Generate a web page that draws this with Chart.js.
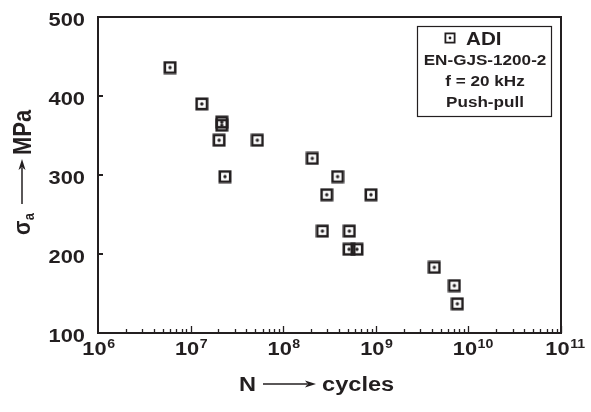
<!DOCTYPE html>
<html>
<head>
<meta charset="utf-8">
<script src="https://cdn.jsdelivr.net/npm/chart.js@4.4.1/dist/chart.umd.min.js"></script>
<style>
  html, body { margin: 0; padding: 0; background: #fff; }
  #wrap { width: 591px; height: 412px; }
</style>
</head>
<body>
<div id="wrap"><canvas id="myChart" width="591" height="412"></canvas></div>
<script>
// fatigue data: number of cycles to failure and stress amplitude (MPa)
let cycles = [6.0e6, 1.32e7, 2.17e7, 2.17e7, 2.03e7, 5.26e7, 2.06e8, 2.35e7, 3.87e8,
              2.95e8, 8.87e8, 2.65e8, 5.18e8, 5.14e8, 6.26e8, 4.28e9, 7.05e9, 7.6e9]
let stress = [436, 390, 367, 363, 344, 344, 321, 298, 298,
              275, 275, 229, 229, 206, 206, 183, 160, 137]

let xExponents = [6, 7, 8, 9, 10, 11]
let yTicks = [100, 200, 300, 400, 500]
let legendLines = ["EN-GJS-1200-2", "f = 20 kHz", "Push-pull"]

const ink = "#231f20"
const FONT = "'Liberation Sans', Arial, sans-serif"
const SX = 1.18 // text in this figure is a bit wide

// square marker with a dot in the middle
function makeMarker(size, lw, dot) {
  let c = document.createElement("canvas")
  c.width = size
  c.height = size
  let g = c.getContext("2d")
  g.strokeStyle = ink
  g.lineWidth = lw
  g.strokeRect(lw / 2 + 0.5, lw / 2 + 0.5, size - lw - 1, size - lw - 1)
  g.fillStyle = ink
  g.beginPath()
  g.arc(size / 2, size / 2, dot, 0, Math.PI * 2)
  g.fill()
  return c
}
let marker = makeMarker(14, 2.6, 1.7)
let legendMarker = makeMarker(12, 1.8, 1.4)

function text(ctx, str, x, y, size, align) {
  ctx.save()
  ctx.font = "bold " + size + "px " + FONT
  ctx.translate(x, y)
  ctx.scale(SX, 1)
  ctx.textAlign = align || "left"
  ctx.textBaseline = "alphabetic"
  ctx.fillText(str, 0, 0)
  ctx.restore()
}
function textWidth(ctx, str, size) {
  ctx.font = "bold " + size + "px " + FONT
  return ctx.measureText(str).width * SX
}

function arrow(ctx, x1, y1, x2, y2) {
  let a = Math.atan2(y2 - y1, x2 - x1)
  let head = 11, half = 3.5
  ctx.save()
  ctx.strokeStyle = ink
  ctx.fillStyle = ink
  ctx.lineWidth = 1.5
  ctx.beginPath()
  ctx.moveTo(x1, y1)
  ctx.lineTo(x2 - Math.cos(a) * head * 0.8, y2 - Math.sin(a) * head * 0.8)
  ctx.stroke()
  ctx.translate(x2, y2)
  ctx.rotate(a)
  ctx.beginPath()
  ctx.moveTo(0, 0)
  ctx.lineTo(-head, -half)
  ctx.lineTo(-head * 0.75, 0)
  ctx.lineTo(-head, half)
  ctx.closePath()
  ctx.fill()
  ctx.restore()
}

const frame = {
  id: "frame",
  afterDraw(chart) {
    let ctx = chart.ctx
    let area = chart.chartArea
    let xs = chart.scales.x
    let ys = chart.scales.y
    ctx.save()
    ctx.fillStyle = ink
    ctx.strokeStyle = ink

    // plot box
    ctx.lineWidth = 2
    ctx.strokeRect(area.left, area.top, area.right - area.left, area.bottom - area.top)

    // log ticks along the bottom, pointing inward
    ctx.lineWidth = 1.3
    ctx.beginPath()
    for (let e = xExponents[0]; e < xExponents[xExponents.length - 1]; e++) {
      for (let m = 2; m <= 10; m++) {
        let px = Math.round(xs.getPixelForValue(m * Math.pow(10, e))) + 0.5
        let len = m === 10 ? 7 : 4
        ctx.moveTo(px, area.bottom)
        ctx.lineTo(px, area.bottom - len)
      }
    }
    ctx.stroke()

    // y ticks pointing inward
    ctx.lineWidth = 2
    ctx.beginPath()
    yTicks.forEach(v => {
      let py = Math.round(ys.getPixelForValue(v))
      ctx.moveTo(area.left, py)
      ctx.lineTo(area.left + 5, py)
    })
    ctx.stroke()

    // y tick labels
    yTicks.forEach(v => {
      let py = ys.getPixelForValue(v)
      text(ctx, String(v), area.left - 13, py + 9, 18.5, "right")
    })

    // x tick labels, 10 with superscript exponent
    xExponents.forEach(e => {
      let px = xs.getPixelForValue(Math.pow(10, e))
      let wBase = textWidth(ctx, "10", 18.5)
      let left = px - 3.5 - wBase / 2
      text(ctx, "10", left, 355, 18.5)
      text(ctx, String(e), left + wBase + 0.5, 348, 12)
    })

    // x axis title
    text(ctx, "N", 239, 391, 20)
    arrow(ctx, 263, 384, 316, 384)
    text(ctx, "cycles", 322, 391, 20)

    // y axis title, rotated
    ctx.save()
    ctx.translate(30, 235)
    ctx.rotate(-Math.PI / 2)
    ctx.scale(1, SX)
    ctx.font = "bold 21px " + FONT
    ctx.textBaseline = "alphabetic"
    ctx.fillText("σ", 0, 0)
    let ws = ctx.measureText("σ").width
    ctx.font = "bold 13px " + FONT
    ctx.fillText("a", ws + 0.5, 3)
    ctx.restore()
    arrow(ctx, 22, 204, 22, 159)
    ctx.save()
    ctx.translate(31, 155)
    ctx.rotate(-Math.PI / 2)
    ctx.scale(1, SX)
    ctx.font = "bold 22px " + FONT
    ctx.textBaseline = "alphabetic"
    ctx.fillText("MPa", 0, 0)
    ctx.restore()

    // legend box
    let bx = 417, by = 26, bw = 134, bh = 90
    ctx.lineWidth = 1.2
    ctx.strokeRect(bx + 0.5, by + 0.5, bw, bh)
    ctx.drawImage(legendMarker, 444, 32)
    text(ctx, "ADI", 466, 45, 17.5)
    let cx = bx + bw / 2 + 1
    legendLines.forEach((s, i) => {
      text(ctx, s, cx, 65 + i * 21, 14.5, "center")
    })
    ctx.restore()
  }
}

let ctx = document.getElementById("myChart").getContext("2d")

let myChart = new Chart(ctx, {
  type: "scatter",
  data: {
    datasets: [{
      label: "ADI",
      data: cycles.map((n, i) => ({ x: n, y: stress[i] })),
      pointStyle: marker,
      pointRadius: 7,
      pointHoverRadius: 7
    }]
  },
  options: {
    responsive: false,
    animation: false,
    events: [],
    layout: { padding: { top: 17, right: 30, left: 0, bottom: 0 } },
    plugins: {
      legend: { display: false },
      tooltip: { enabled: false }
    },
    scales: {
      x: {
        type: "logarithmic",
        min: 1e6,
        max: 1e11,
        grid: { display: false, drawTicks: false },
        border: { display: false },
        ticks: { display: false },
        afterFit(scale) { scale.height = 79 }
      },
      y: {
        min: 100,
        max: 500,
        grid: { display: false, drawTicks: false },
        border: { display: false },
        ticks: { display: false, stepSize: 100 },
        afterFit(scale) { scale.width = 98 }
      }
    }
  },
  plugins: [frame]
})
</script>
</body>
</html>
